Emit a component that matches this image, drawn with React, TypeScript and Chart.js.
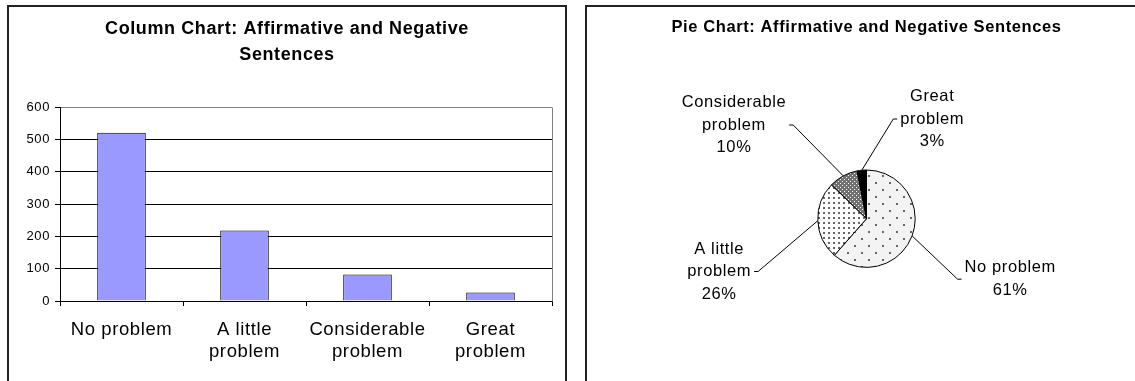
import React, { useEffect, useRef } from 'react';
import { Chart, registerables } from 'chart.js';

Chart.register(...registerables);

// ---- data ----
const categoryLines: string[][] = [['No problem'], ['A little', 'problem'], ['Considerable', 'problem'], ['Great', 'problem']];
const sentenceCounts: number[] = [520, 218, 82, 26];
const yTickValues: number[] = [0, 100, 200, 300, 400, 500, 600];
const columnTitle: string[] = ['Column Chart: Affirmative and Negative', 'Sentences'];
const pieTitle = 'Pie Chart: Affirmative and Negative Sentences';

// ---- styling / layout ----
const FONT = "'Liberation Sans', Arial, Helvetica, sans-serif";
const LETTER_SPACING = '0.6px';
const BAR_FILL = '#9999FF';
// label block centres relative to the pie centre, one per slice
const PIE_LABEL_OFFSETS: number[][] = [[143.7, 60.5], [-147.3, 52.8], [-132.5, -93.7], [65.7, -99.7]];
const PIE_LABEL_SIZE = 16.5;
const PIE_LABEL_LINE = 22.5;

const spacingPlugin = {
  id: 'letterSpacing',
  beforeLayout(chart: any) { chart.ctx.letterSpacing = LETTER_SPACING; },
  beforeDraw(chart: any) { chart.ctx.letterSpacing = LETTER_SPACING; },
};

// grey right-hand edge of the plot area
const plotFramePlugin = {
  id: 'plotFrame',
  afterDraw(chart: any) {
    const { ctx, chartArea } = chart;
    const x = Math.round(chartArea.right) + 0.5;
    ctx.save();
    ctx.strokeStyle = '#808080';
    ctx.lineWidth = 1;
    ctx.beginPath();
    ctx.moveTo(x, Math.round(chartArea.top) + 0.5);
    ctx.lineTo(x, Math.round(chartArea.bottom) + 0.5);
    ctx.stroke();
    ctx.restore();
  },
};

// slice labels with leader lines
const sliceLabelPlugin = {
  id: 'sliceLabels',
  afterDraw(chart: any) {
    const ctx = chart.ctx;
    const meta = chart.getDatasetMeta(0);
    const values: number[] = chart.data.datasets[0].data;
    const total = values.reduce((a, b) => a + b, 0);
    ctx.save();
    ctx.letterSpacing = LETTER_SPACING;
    ctx.font = `${PIE_LABEL_SIZE}px ${FONT}`;
    ctx.fillStyle = '#000';
    ctx.strokeStyle = '#000';
    ctx.lineWidth = 1;
    meta.data.forEach((arc: any, i: number) => {
      const { x, y, startAngle, endAngle, outerRadius } = arc.getProps(['x', 'y', 'startAngle', 'endAngle', 'outerRadius'], true);
      const mid = (startAngle + endAngle) / 2;
      const ex = x + Math.cos(mid) * outerRadius;
      const ey = y + Math.sin(mid) * outerRadius;
      const pct = Math.round((values[i] / total) * 100) + '%';
      const lines = [...categoryLines[i], pct];
      const [dx, dy] = PIE_LABEL_OFFSETS[i];
      const cx = x + dx;
      const cy = y + dy;
      const w = Math.max(...lines.map((t) => ctx.measureText(t).width));
      const side = dx < 0 ? 1 : -1;
      const endX = cx + side * (w / 2 + 3);
      const hookX = endX + side * 4;
      ctx.beginPath();
      ctx.moveTo(ex, ey);
      ctx.lineTo(hookX, cy);
      ctx.lineTo(endX, cy);
      ctx.stroke();
      ctx.textAlign = 'center';
      ctx.textBaseline = 'middle';
      lines.forEach((t, k) => {
        ctx.fillText(t, cx, cy + (k - (lines.length - 1) / 2) * PIE_LABEL_LINE);
      });
    });
    ctx.restore();
  },
};

function makePattern(tile: number, bg: string, ink: string, pts: number[][], dot: number): CanvasPattern | string {
  const c = document.createElement('canvas');
  c.width = tile;
  c.height = tile;
  const g = c.getContext('2d');
  if (!g) return bg;
  g.fillStyle = bg;
  g.fillRect(0, 0, tile, tile);
  g.fillStyle = ink;
  pts.forEach(([px, py]) => g.fillRect(px, py, dot, dot));
  return g.createPattern(c, 'repeat') || bg;
}

export default function App() {
  const colRef = useRef<HTMLCanvasElement>(null);
  const pieRef = useRef<HTMLCanvasElement>(null);

  useEffect(() => {
    Chart.defaults.font.family = FONT;
    Chart.defaults.color = '#000';

    const column = new Chart(colRef.current as HTMLCanvasElement, {
      type: 'bar',
      data: {
        labels: categoryLines,
        datasets: [
          {
            data: sentenceCounts,
            backgroundColor: BAR_FILL,
            borderColor: '#000',
            borderWidth: 1,
            barPercentage: 0.395,
            categoryPercentage: 1,
          },
        ],
      },
      options: {
        responsive: false,
        maintainAspectRatio: false,
        animation: false,
        devicePixelRatio: 1,
        layout: { padding: { left: 14, right: 14, top: 0, bottom: 0 } },
        plugins: {
          legend: { display: false },
          tooltip: { enabled: false },
          title: {
            display: true,
            text: columnTitle,
            color: '#000',
            font: { size: 18, weight: 'bold', lineHeight: '26px' },
            padding: { top: 11, bottom: 39 },
          },
        },
        scales: {
          x: {
            grid: { drawOnChartArea: false, offset: true, tickLength: 5, tickColor: '#000', color: '#000' },
            border: { color: '#000' },
            ticks: { color: '#000', font: { size: 18.5, lineHeight: '22px' }, padding: 12.5, maxRotation: 0, autoSkip: false },
            afterFit: (s: any) => { s.height = 80; },
          },
          y: {
            min: 0,
            max: 600,
            grid: {
              color: (c: any) => (c.tick && c.tick.value === 600 ? '#808080' : '#000'),
              tickLength: 5,
              tickColor: '#000',
            },
            border: { color: '#000' },
            ticks: { color: '#000', font: { size: 13 }, padding: 5 },
            afterBuildTicks: (s: any) => { s.ticks = yTickValues.map((v) => ({ value: v })); },
            afterFit: (s: any) => { s.width = 38; },
          },
        },
      },
      plugins: [spacingPlugin, plotFramePlugin],
    } as any);

    const sparseDots = makePattern(14, '#f3f3f3', '#666', [[2, 2], [9, 9]], 2);
    const denseDots = makePattern(5, '#ffffff', '#666', [[2, 2]], 2);
    const mesh = makePattern(4, '#707070', '#ffffff', [[0, 0], [2, 2]], 1);

    const pie = new Chart(pieRef.current as HTMLCanvasElement, {
      type: 'pie',
      data: {
        labels: categoryLines.map((l) => l.join(' ')),
        datasets: [
          {
            data: sentenceCounts,
            backgroundColor: [sparseDots, denseDots, mesh, '#000'],
            borderColor: '#000',
            borderWidth: 1,
            radius: 48.7,
          },
        ],
      },
      options: {
        responsive: false,
        maintainAspectRatio: false,
        animation: false,
        devicePixelRatio: 1,
        layout: { padding: 0 },
        plugins: {
          legend: { display: false },
          tooltip: { enabled: false },
          title: {
            display: true,
            text: pieTitle,
            color: '#000',
            font: { size: 16.5, weight: 'bold', lineHeight: 1.2 },
            padding: { top: 12.8, bottom: 18.8 },
          },
        },
      },
      plugins: [spacingPlugin, sliceLabelPlugin],
    } as any);

    return () => {
      column.destroy();
      pie.destroy();
    };
  }, []);

  const box: React.CSSProperties = {
    position: 'absolute',
    top: 5,
    height: 420,
    border: '2px solid #222',
    boxSizing: 'border-box',
  };

  return (
    <div style={{ position: 'fixed', left: 0, top: 0, width: 1135, height: 381, overflow: 'hidden', background: '#fff' }}>
      <div style={{ ...box, left: 7, width: 560 }} />
      <div style={{ ...box, left: 585, width: 560 }} />
      <canvas ref={colRef} width={558} height={376} style={{ position: 'absolute', left: 8, top: 5, width: 558, height: 376 }} />
      <canvas ref={pieRef} width={561} height={376} style={{ position: 'absolute', left: 586, top: 5, width: 561, height: 376 }} />
    </div>
  );
}
